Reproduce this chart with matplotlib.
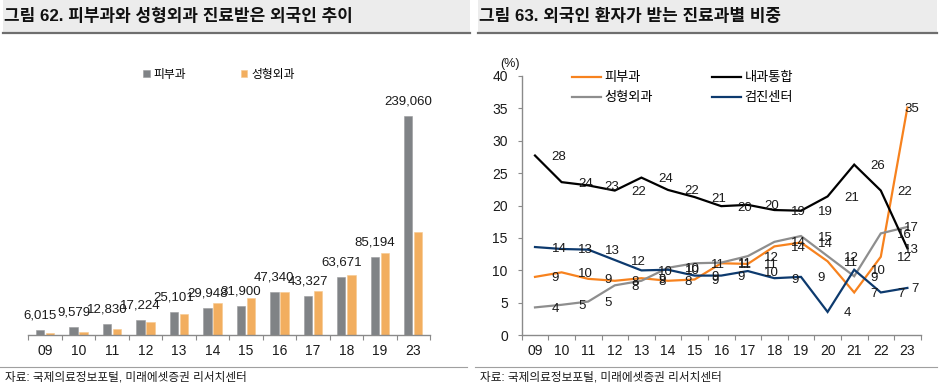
import matplotlib
matplotlib.use('Agg')
import matplotlib.pyplot as plt
import numpy as np
from matplotlib.lines import Line2D
from matplotlib.patches import Rectangle

# left chart: 피부과 / 성형외과 외국인 환자 수
years_left = ['09', '10', '11', '12', '13', '14', '15', '16', '17', '18', '19', '23']
derm_count = [6015, 9579, 12830, 17224, 25101, 29948, 31900, 47340, 43327, 63671, 85194, 239060]
plastic_count = [2550, 3640, 7280, 14550, 22900, 35300, 40400, 47300, 48000, 65900, 89500, 113200]

# right chart: 진료과별 비중 (%)
years_right = ['09', '10', '11', '12', '13', '14', '15', '16', '17', '18', '19', '20', '21', '22', '23']
derm_share = [9.0, 9.7, 8.7, 8.4, 8.8, 8.4, 8.6, 11.1, 11.0, 13.7, 14.3, 11.4, 6.6, 12.1, 35.1]
plastic_share = [4.3, 4.7, 5.2, 7.7, 8.4, 10.4, 11.1, 11.2, 12.2, 14.4, 15.3, 12.2, 9.1, 15.7, 16.7]
internal_share = [27.7, 23.6, 23.1, 22.3, 24.3, 22.4, 21.3, 19.9, 20.1, 19.3, 19.2, 21.4, 26.3, 22.3, 13.4]
checkup_share = [13.6, 13.3, 13.2, 11.6, 10.0, 10.1, 9.2, 9.2, 9.9, 8.8, 9.0, 3.6, 10.1, 6.6, 7.3]

plt.rcParams['font.family'] = ['Liberation Sans', 'Noto Sans CJK KR']
plt.rcParams['axes.unicode_minus'] = False

W, H = 940, 390
TXT = '#1a1a1a'
SPINE = '#8a8a8a'


def fx(x):
    return x / W


def fy(y):
    return 1 - y / H


fig = plt.figure(figsize=(W / 100, H / 100), dpi=100)

# title strips, underlines, footers
for x0, x1, title in [(3, 470, '그림 62. 피부과와 성형외과 진료받은 외국인 추이'),
                      (478, 937, '그림 63. 외국인 환자가 받는 진료과별 비중')]:
    fig.add_artist(Rectangle((fx(x0), fy(32)), fx(x1 - x0), 32 / H,
                             transform=fig.transFigure, color='#ececec', lw=0, zorder=0))
    fig.add_artist(Line2D([fx(x0), fx(x1)], [fy(33), fy(33)], transform=fig.transFigure,
                          color='#6e6e6e', lw=1.6))
    fig.text(fx(x0 + 1), fy(16), title, fontsize=12.2, fontweight='bold',
             va='center', ha='left', color='#111111')
for x0, x1 in [(0, 467), (475, 937)]:
    fig.add_artist(Line2D([fx(x0), fx(x1)], [fy(366.5), fy(366.5)], transform=fig.transFigure,
                          color='#a0a0a0', lw=0.8))
    fig.text(fx(x0 + 5), fy(378), '자료: 국제의료정보포털, 미래에셋증권 리서치센터',
             fontsize=8.4, va='center', ha='left', color=TXT)

# ---- left chart ----
ax1 = fig.add_axes([fx(28.3), fy(335.3), fx(430 - 28.3), (335.3 - 60.5) / H])
x = np.arange(len(years_left))
b1 = ax1.bar(x - 0.15, derm_count, width=0.25, color='#808386', edgecolor='#9a9c9e', lw=0.4,
             label='피부과')
b2 = ax1.bar(x + 0.15, plastic_count, width=0.25, color='#f2ae5f', edgecolor='#f7c88e', lw=0.4,
             label='성형외과')
for xi, v in zip(x, derm_count):
    ax1.annotate(f'{v:,}', (xi - 0.15, v), xytext=(0, 6), textcoords='offset points',
                 ha='center', va='bottom', fontsize=9.5, color=TXT)
ax1.set_xlim(-0.5, len(years_left) - 0.5)
ax1.set_ylim(0, 300000)
ax1.set_xticks(x)
ax1.set_xticklabels(years_left, fontsize=10, color=TXT)
ax1.set_xticks(np.arange(-0.5, len(years_left), 1), minor=True)
ax1.tick_params(axis='x', which='major', length=0, pad=6)
ax1.tick_params(axis='x', which='minor', length=3.5, color=SPINE, width=0.8)
ax1.set_yticks([])
for s in ['top', 'right', 'left']:
    ax1.spines[s].set_visible(False)
ax1.spines['bottom'].set_color(SPINE)
ax1.spines['bottom'].set_linewidth(1.0)
ax1.legend(handles=[b1, b2], ncol=2, loc='center', bbox_to_anchor=(fx(219), fy(75)),
           bbox_transform=fig.transFigure, frameon=False, fontsize=8.5,
           handlelength=0.55, handleheight=0.55, handletextpad=0.35, columnspacing=4.6,
           borderpad=0, borderaxespad=0)

# ---- right chart ----
ax2 = fig.add_axes([fx(521.7), fy(335.3), fx(920.7 - 521.7), (335.3 - 75.7) / H])
xr = np.arange(len(years_right))
series = [
    ('피부과', derm_share, '#f7821e'),
    ('성형외과', plastic_share, '#8e8e8e'),
    ('내과통합', internal_share, '#000000'),
    ('검진센터', checkup_share, '#0d3a6e'),
]
handles = []
for name, vals, col in series:
    ln, = ax2.plot(xr, vals, color=col, lw=1.6, label=name, solid_joinstyle='miter')
    handles.append(ln)
    last = len(vals) - 1
    for i, v in enumerate(vals):
        if i < last:
            ax2.text(i + 0.62, v, f'{v:.0f}', ha='left', va='center_baseline',
                     fontsize=9.5, color=TXT)
        else:
            ax2.text(i + 0.43, v, f'{v:.0f}', ha='right', va='center_baseline',
                     fontsize=9.5, color=TXT)
ax2.set_xlim(-0.5, len(years_right) - 0.5)
ax2.set_ylim(0, 40)
ax2.set_yticks(np.arange(0, 41, 5))
ax2.set_yticklabels([str(t) for t in range(0, 41, 5)], fontsize=10, color=TXT)
ax2.set_xticks(xr)
ax2.set_xticklabels(years_right, fontsize=10, color=TXT)
ax2.set_xticks(np.arange(-0.5, len(years_right), 1), minor=True)
ax2.tick_params(axis='x', which='major', length=0, pad=6)
ax2.tick_params(axis='x', which='minor', length=3.5, color=SPINE, width=0.8)
ax2.tick_params(axis='y', length=3, color=SPINE, width=0.8, pad=7)
for s in ['top', 'right']:
    ax2.spines[s].set_visible(False)
for s in ['left', 'bottom']:
    ax2.spines[s].set_color(SPINE)
    ax2.spines[s].set_linewidth(1.0)
fig.text(fx(510), fy(64), '(%)', fontsize=9, ha='center', va='center', color=TXT)
ax2.legend(handles=handles, ncol=2, loc='upper left', bbox_to_anchor=(fx(572), fy(72)),
           bbox_transform=fig.transFigure, frameon=False, fontsize=9.5,
           handlelength=2.2, handletextpad=0.25, columnspacing=4.5, labelspacing=0.6,
           borderpad=0, borderaxespad=0)

fig.savefig('out.png', dpi=100)
